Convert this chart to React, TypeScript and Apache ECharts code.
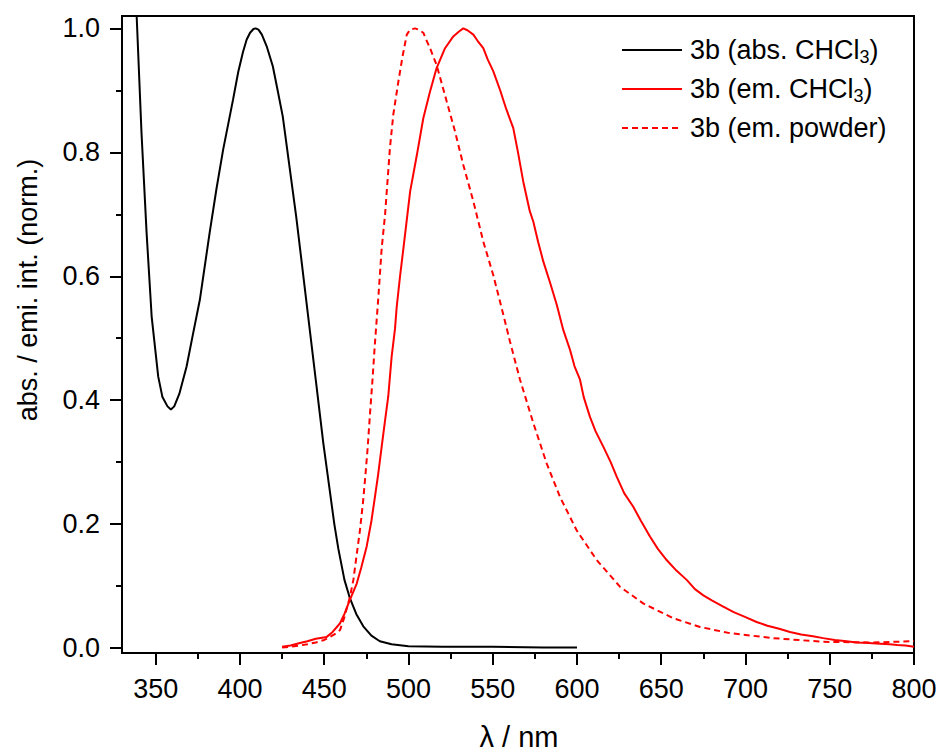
import React, { useEffect, useRef } from "react";
import * as echarts from "echarts";

// 3b absorption in CHCl3 (black)
const absX = [337, 338.7, 341.6, 344.6, 347.6, 350, 351.5, 354, 357, 359, 361, 364, 368.3, 372, 376.2, 382, 386, 390, 395.9, 399, 401.8, 404, 406, 408, 409.3, 411, 413, 416, 419.5, 422, 425.4, 429, 433.4, 439.3, 445.2, 449.5, 453, 456, 458.4, 462, 465.3, 469, 473.2, 478, 483, 490, 500, 520, 550, 580, 600];
const absY = [1.13, 1.02, 0.83, 0.67, 0.535, 0.475, 0.438, 0.405, 0.39, 0.385, 0.39, 0.41, 0.454, 0.505, 0.562, 0.67, 0.74, 0.804, 0.885, 0.93, 0.962, 0.982, 0.993, 0.999, 1.0, 0.998, 0.99, 0.97, 0.939, 0.905, 0.858, 0.785, 0.696, 0.562, 0.428, 0.33, 0.26, 0.2, 0.16, 0.11, 0.08, 0.055, 0.035, 0.02, 0.011, 0.006, 0.003, 0.002, 0.002, 0.001, 0.001];

// 3b emission in CHCl3 (red solid)
const emX = [425, 430, 435.6, 440, 445, 451.5, 455, 459.4, 462, 465.3, 469.3, 472, 475.2, 478, 480.1, 482, 484.1, 486, 488, 490, 492, 493, 495, 497, 501, 505, 508.8, 512.8, 516.7, 521.7, 526.6, 530, 532.5, 535, 538.5, 541, 544.4, 547, 550.3, 554.3, 558, 562.2, 565, 568.1, 572, 574.1, 577, 580, 584, 588, 591.9, 595.9, 598.5, 601.8, 604, 607.7, 611, 615.6, 620, 623.5, 628, 633.4, 638, 643.3, 648, 653.2, 659, 665.1, 670, 675, 680, 686.8, 693, 700, 706.6, 713, 720, 726.4, 733, 740, 746.1, 753, 760, 766, 773, 780, 785.7, 790, 795, 800];
const emY = [0.002, 0.004, 0.008, 0.011, 0.015, 0.018, 0.026, 0.04, 0.055, 0.078, 0.104, 0.13, 0.164, 0.205, 0.244, 0.28, 0.325, 0.365, 0.406, 0.47, 0.515, 0.55, 0.6, 0.645, 0.737, 0.796, 0.855, 0.898, 0.936, 0.968, 0.987, 0.995, 1.0, 0.997, 0.99, 0.98, 0.968, 0.95, 0.931, 0.901, 0.87, 0.839, 0.8, 0.753, 0.705, 0.688, 0.655, 0.624, 0.59, 0.554, 0.513, 0.481, 0.455, 0.433, 0.405, 0.373, 0.35, 0.325, 0.3, 0.277, 0.25, 0.228, 0.205, 0.18, 0.16, 0.142, 0.125, 0.11, 0.095, 0.085, 0.077, 0.067, 0.058, 0.05, 0.042, 0.036, 0.031, 0.026, 0.022, 0.019, 0.016, 0.013, 0.011, 0.009, 0.008, 0.007, 0.006, 0.005, 0.004, 0.002];

// 3b emission of the powder (red dashed)
const powX = [425, 430, 435, 440, 445, 450, 453.4, 456, 459.4, 462, 464, 465.3, 467.3, 469, 471.2, 473, 474.2, 475.7, 477.2, 478.7, 480.1, 482.1, 484.1, 486.1, 489, 491, 494, 496.5, 499, 501, 503.9, 506, 508.8, 510.5, 512.8, 516.7, 522.7, 527.6, 532.5, 538.5, 544.4, 550.3, 556.3, 560.2, 566.2, 574.1, 582, 589.9, 599.8, 611.7, 625.5, 639.3, 657.2, 673, 690.8, 716.5, 746.1, 775.8, 800];
const powY = [0.001, 0.002, 0.004, 0.006, 0.009, 0.013, 0.018, 0.022, 0.029, 0.05, 0.07, 0.083, 0.11, 0.145, 0.19, 0.235, 0.271, 0.32, 0.379, 0.435, 0.492, 0.565, 0.645, 0.699, 0.807, 0.861, 0.914, 0.955, 0.99, 0.998, 1.0, 0.998, 0.993, 0.982, 0.968, 0.941, 0.882, 0.834, 0.78, 0.721, 0.656, 0.602, 0.538, 0.495, 0.433, 0.363, 0.298, 0.244, 0.19, 0.142, 0.099, 0.072, 0.048, 0.034, 0.024, 0.016, 0.01, 0.009, 0.011];

const seriesNames = ["3b (abs. CHCl3)", "3b (em. CHCl3)", "3b (em. powder)"];
const xMajorTicks = [350, 400, 450, 500, 550, 600, 650, 700, 750, 800];
const xMinorTicks = [375, 425, 475, 525, 575, 625, 675, 725, 775];
const yMajorTicks = [0, 0.2, 0.4, 0.6, 0.8, 1.0];
const yMinorTicks = [0.1, 0.3, 0.5, 0.7, 0.9];
const xTitle = "λ / nm";
const yTitle = "abs. / emi. int. (norm.)";

const FONT = '"Liberation Sans", Arial, Helvetica, sans-serif';

const zip = (xs: number[], ys: number[]) => xs.map((x, i) => [x, ys[i]]);

export default function App() {
  const ref = useRef<HTMLDivElement>(null);
  useEffect(() => {
    if (!ref.current) return;
    const chart = echarts.init(ref.current, undefined, { renderer: "svg" });
    const X_MIN = 330, X_MAX = 800, Y_MIN = -0.008, Y_MAX = 1.02;
    const axisCommonX = { type: "value", min: X_MIN, max: X_MAX, position: "bottom", splitLine: { show: false } };
    const axisCommonY = { type: "value", min: Y_MIN, max: Y_MAX, position: "left", splitLine: { show: false } };

    const legendStyles = [
      { color: "#000", dash: undefined as any },
      { color: "#ff0000", dash: undefined as any },
      { color: "#ff0000", dash: [6, 4] },
    ];
    const legendRowY = [50, 89, 128];
    const legendGraphics: any[] = [];
    seriesNames.forEach((name, i) => {
      const cy = legendRowY[i];
      legendGraphics.push({
        type: "line",
        shape: { x1: 622, y1: cy, x2: 682, y2: cy },
        style: { stroke: legendStyles[i].color, lineWidth: 2, lineDash: legendStyles[i].dash },
      });
      legendGraphics.push({
        type: "text",
        x: 690,
        y: cy,
        style: {
          text: name.replace("CHCl3", "CHCl{s|3}"),
          fontSize: 27,
          fontFamily: FONT,
          fill: "#000",
          align: "left",
          verticalAlign: "middle",
          rich: { s: { fontSize: 18, fontFamily: FONT, fill: "#000", padding: [14, 0, 0, 0] } },
        },
      });
    });

    chart.setOption({
      animation: false,
      backgroundColor: "#fff",
      grid: { left: 122, right: 31, top: 16, bottom: 103, show: true, borderColor: "#000", borderWidth: 2, backgroundColor: "transparent" },
      xAxis: [
        {
          ...axisCommonX,
          axisLine: { show: true, onZero: false, lineStyle: { color: "#000", width: 2 } },
          axisTick: { show: true, inside: false, length: 12, lineStyle: { color: "#000", width: 2 }, customValues: xMajorTicks },
          axisLabel: { show: true, customValues: xMajorTicks, margin: 22, fontSize: 27, fontFamily: FONT, color: "#000", showMinLabel: true, showMaxLabel: true },
        },
        {
          ...axisCommonX,
          axisLine: { show: false, onZero: false },
          axisTick: { show: true, inside: false, length: 6, lineStyle: { color: "#000", width: 2 }, customValues: xMinorTicks },
          axisLabel: { show: false },
        },
      ],
      yAxis: [
        {
          ...axisCommonY,
          axisLine: { show: true, onZero: false, lineStyle: { color: "#000", width: 2 } },
          axisTick: { show: true, inside: false, length: 12, lineStyle: { color: "#000", width: 2 }, customValues: yMajorTicks },
          axisLabel: { show: true, customValues: yMajorTicks, margin: 22, fontSize: 27, fontFamily: FONT, color: "#000", formatter: (v: number) => v.toFixed(1) },
        },
        {
          ...axisCommonY,
          axisLine: { show: false, onZero: false },
          axisTick: { show: true, inside: false, length: 6, lineStyle: { color: "#000", width: 2 }, customValues: yMinorTicks },
          axisLabel: { show: false },
        },
      ],
      graphic: [
        ...legendGraphics,
        {
          type: "text",
          x: 28,
          y: 290,
          rotation: Math.PI / 2,
          style: { text: yTitle, fontSize: 27, fontFamily: FONT, fill: "#000", align: "center", verticalAlign: "middle" },
        },
        {
          type: "text",
          x: 519,
          y: 737,
          style: { text: xTitle, fontSize: 29, fontFamily: FONT, fill: "#000", align: "center", verticalAlign: "middle" },
        },
      ],
      series: [
        { name: seriesNames[0], type: "line", data: zip(absX, absY), symbol: "none", clip: true, lineStyle: { color: "#000", width: 2 } },
        { name: seriesNames[1], type: "line", data: zip(emX, emY), symbol: "none", clip: true, lineStyle: { color: "#ff0000", width: 2 } },
        { name: seriesNames[2], type: "line", data: zip(powX, powY), symbol: "none", clip: true, lineStyle: { color: "#ff0000", width: 2, type: [6, 4] } },
      ],
    });
    return () => chart.dispose();
  }, []);
  return <div ref={ref} style={{ position: "fixed", left: 0, top: 0, width: 945, height: 756, background: "#fff" }} />;
}
